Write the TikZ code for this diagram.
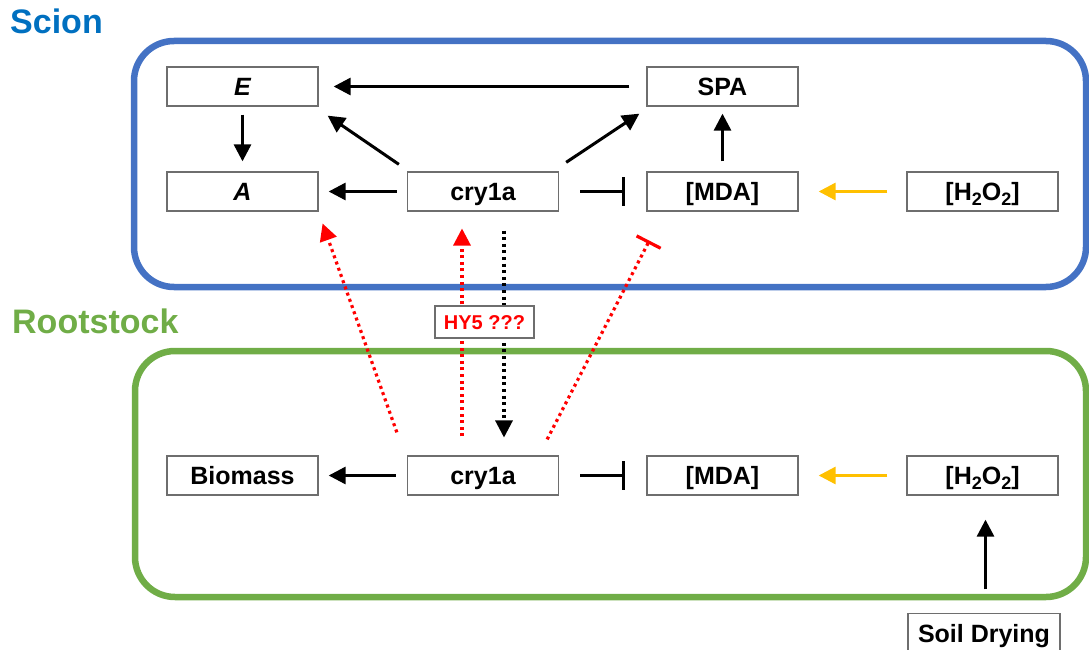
\documentclass[tikz,border=0pt]{standalone}
\usepackage{fontspec}
\setmainfont{Liberation Sans}
\usetikzlibrary{arrows.meta}
\definecolor{scionblue}{HTML}{4472C4}
\definecolor{sciontext}{HTML}{0070C0}
\definecolor{rootgreen}{HTML}{70AD47}
\definecolor{boxgray}{HTML}{6E6E6E}
\definecolor{ros}{HTML}{FFC000}
\newcommand{\subtwo}{\raisebox{-0.35ex}{\fontsize{18}{18}\selectfont 2}}
\tikzset{
  x=1pt, y=-1pt,
  lbl/.style={draw=boxgray, line width=1.3pt, fill=white, minimum width=151pt,
    minimum height=39pt, inner sep=0pt, text height=24pt, text depth=6pt,
    font=\fontsize{25}{28}\selectfont\bfseries},
  act/.style={line width=3pt, -{Triangle[length=17pt,width=17pt]}},
  inh/.style={line width=3pt, -{Bar[width=29pt,line width=3pt]}},
  rosact/.style={act, draw=ros},
  redact/.style={line width=3.2pt, red, dash pattern=on 3pt off 3.6pt,
    -{Triangle[length=17pt,width=18pt,line width=0pt]}},
  redinh/.style={line width=3.2pt, red, dash pattern=on 3pt off 3.6pt,
    -{Bar[width=27pt,line width=3.2pt]}},
  blkdot/.style={line width=3.2pt, black, dash pattern=on 3pt off 3.6pt,
    -{Triangle[length=17pt,width=18pt,line width=0pt]}},
  region/.style={line width=6.5pt, rounded corners=40pt},
  title/.style={anchor=north west, inner sep=0pt, font=\fontsize{34}{38}\selectfont\bfseries}
}
\begin{document}
\begin{tikzpicture}
\useasboundingbox (0,0) rectangle (1089,650);

% compartments
\draw[region, scionblue] (134,41) rectangle (1086,287);
\draw[region, rootgreen] (135,351) rectangle (1086,597);
\node[title, text=sciontext] (scion) at (10,9) {Scion};
\node[title, text=rootgreen] (root) at (12,309) {Rootstock};

% scion nodes
\node[lbl] (E)   at (242.5,86.5) {\itshape E};
\node[lbl] (A)   at (242.5,191.5) {\itshape A};
\node[lbl] (SPA) at (722.5,86.5) {SPA};
\node[lbl] (cs)  at (483,191.5) {cry1a};
\node[lbl] (ms)  at (722.5,191.5) {[MDA]};
\node[lbl] (hs)  at (982.5,191.5) {[H\subtwo O\subtwo]};

% rootstock nodes
\node[lbl] (bio) at (242.5,475.5) {Biomass};
\node[lbl] (cr)  at (483,475.5) {cry1a};
\node[lbl] (mr)  at (722.5,475.5) {[MDA]};
\node[lbl] (hr)  at (982.5,475.5) {[H\subtwo O\subtwo]};
\node[lbl, minimum width=152pt] (soil) at (984,633) {Soil Drying};

% scion interactions (shifts: positive yshift points up the page)
\draw[act] ([xshift=-17pt]SPA.west) -- ([xshift=15pt]E.east);
\draw[act] ([yshift=-8pt]E.south) -- ([yshift=10pt]A.north);
\draw[act] ([xshift=-8pt,yshift=7pt]cs.north west) -- ([xshift=9pt,yshift=-9pt]E.south east);
\draw[act] ([xshift=-10pt]cs.west) -- ([xshift=10pt]A.east);
\draw[act] ([xshift=7pt,yshift=9pt]cs.north east) -- ([xshift=-7pt,yshift=-7pt]SPA.south west);
\draw[act] ([yshift=10pt]ms.north) -- ([yshift=-7pt]SPA.south);
\draw[inh] ([xshift=21pt]cs.east) -- ([xshift=-21pt]ms.west);
\draw[rosact] ([xshift=-19pt]hs.west) -- ([xshift=20pt]ms.east);

% rootstock interactions
\draw[act] ([xshift=-11pt]cr.west) -- ([xshift=10pt]bio.east);
\draw[inh] ([xshift=21pt]cr.east) -- ([xshift=-21pt]mr.west);
\draw[rosact] ([xshift=-19pt]hr.west) -- ([xshift=20pt]mr.east);
\draw[act] ([xshift=1.5pt,yshift=23.5pt]soil.north) -- ([xshift=3pt,yshift=-24pt]hr.south);

% long-distance signals between rootstock and scion
\draw[redact] ([xshift=-10pt,yshift=23pt]cr.north west) -- ([xshift=4pt,yshift=-12pt]A.south east);
\draw[redact] ([xshift=-21pt,yshift=19pt]cr.north) -- ([xshift=-21pt,yshift=-17pt]cs.south);
\draw[blkdot] ([xshift=21pt,yshift=-19pt]cs.south) -- ([xshift=21pt,yshift=18pt]cr.north);
\draw[redinh] ([xshift=-12pt,yshift=16pt]cr.north east) -- ([xshift=3pt,yshift=-29pt]ms.south west);
\node[draw=boxgray, line width=1.2pt, fill=white, text=red, inner sep=0pt,
  minimum width=99pt, minimum height=32pt, text height=15pt, text depth=1pt,
  font=\fontsize{20}{22}\selectfont\bfseries]
  (hy5) at (484.5,322) {HY5 ???};
\end{tikzpicture}
\end{document}
